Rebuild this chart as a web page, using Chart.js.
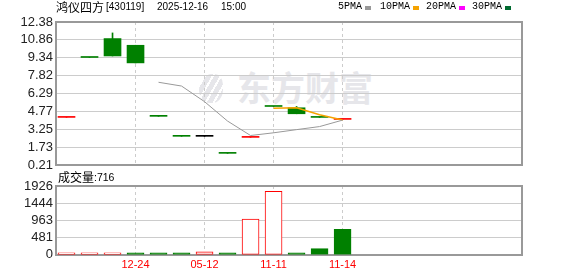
<!DOCTYPE html>
<html>
<head>
<meta charset="utf-8">
<script src="https://cdn.jsdelivr.net/npm/chart.js@4.4.0/dist/chart.umd.min.js"></script>
<style>
    body { margin: 0; background: #fff; width: 578px; height: 276px; overflow: hidden; position: relative; }
    canvas { position: absolute; left: 0; }
    #main { top: 0; }
    #vol { top: 170px; }
    .t { position: absolute; white-space: nowrap; color: #000; line-height: 1; }
    .cjk { font-family: "Noto Sans CJK SC", sans-serif; font-size: 12px; }
    .num { font-family: "Liberation Sans", sans-serif; font-size: 10px; }
    .lg { font-family: "Liberation Mono", monospace; font-size: 10px; }
    .sq { position: absolute; width: 6px; height: 4px; }
    #wm { position: absolute; left: 237px; top: 70px; font-family: "Noto Sans CJK SC", sans-serif; font-weight: bold; font-size: 34px; color: #e6e6ea; line-height: 1; }
    #wmIcon { position: absolute; left: 199px; top: 74px; width: 24px; height: 29px; border-radius: 60% 40% 50% 50%; background: repeating-linear-gradient(120deg, #e6e6ea 0 5px, #fff 5px 7px); }
</style>
</head>
<body>
<div id="wmIcon"></div>
<div id="wm">东方财富</div>
<canvas id="main" width="578" height="176"></canvas>
<canvas id="vol" width="578" height="106"></canvas>

<span class="t cjk" style="left:56px;top:1px">鸿仪四方</span>
<span class="t num" style="left:106px;top:2px;transform:scaleY(1.15)">[430119]</span>
<span class="t num" style="left:157px;top:2px;transform:scaleY(1.15)">2025-12-16</span>
<span class="t num" style="left:221px;top:2px;transform:scaleY(1.15)">15:00</span>

<span class="t lg" style="left:338px;top:2px">5PMA</span><div class="sq" style="left:365px;top:6px;background:#999"></div>
<span class="t lg" style="left:380px;top:2px">10PMA</span><div class="sq" style="left:413px;top:6px;background:#f5a300"></div>
<span class="t lg" style="left:426px;top:2px">20PMA</span><div class="sq" style="left:459px;top:6px;background:#ff00ff"></div>
<span class="t lg" style="left:472px;top:2px">30PMA</span><div class="sq" style="left:505px;top:6px;background:#006a30"></div>

<span class="t cjk" style="left:58px;top:171px">成交量</span>
<span class="t num" style="left:94px;top:172px;font-size:10.5px">:716</span>

<script>
// trading days (only every third one is labelled)
const dates = ['10-15', '11-20', '12-05', '12-24', '01-15', '03-20', '05-12', '06-20', '11-10', '11-11', '11-12', '11-13', '11-14'];
const labelIdx = [3, 6, 9, 12];

// prices
const openP  = [4.26, 9.36, 10.97, 10.40, 4.35, 2.65, 2.65, 1.20, 2.56, 5.19, 5.08, 4.26, 4.09];
const closeP = [4.26, 9.36, 9.49, 8.90, 4.35, 2.65, 2.65, 1.20, 2.56, 5.19, 4.57, 4.26, 4.09];
const highP  = [4.26, 9.36, 11.45, 10.40, 4.35, 2.65, 2.65, 1.20, 2.56, 5.19, 5.19, 4.26, 4.09];
const lowP   = [4.26, 9.36, 9.49, 8.90, 4.35, 2.65, 2.65, 1.20, 2.56, 5.19, 4.57, 4.26, 4.09];
// 1 = up (red), -1 = down (green), 0 = flat (black)
const candleDir = [1, -1, -1, -1, -1, -1, 0, -1, 1, -1, -1, -1, 1];

// moving averages
const ma5  = [null, null, null, null, 7.25, 6.93, 5.60, 3.95, 2.72, 2.95, 3.22, 3.48, 4.03];
const ma10 = [null, null, null, null, null, null, null, null, null, 5.05, 5.08, 4.48, 4.04];

// volume
const volume = [20, 20, 20, 20, 20, 20, 80, 30, 1000, 1780, 30, 175, 716];
const volDir = [1, 1, 1, -1, -1, -1, 1, -1, 1, 1, -1, -1, -1];

// axis tick labels
const priceTicks = ['0.21', '1.73', '3.25', '4.77', '6.29', '7.82', '9.34', '10.86', '12.38'];
const volTicks = ['0', '481', '963', '1444', '1926'];

const RED = '#ff0000', GREEN = '#008000', BLACK = '#000000';
const dirColor = d => d > 0 ? RED : (d < 0 ? GREEN : BLACK);
const tickFont = { family: 'Liberation Sans', size: 13 };
const xMin = -0.457, xMax = 19.8;

// frame round the plot area, drawn under the bars
const framePlugin = {
    id: 'frame',
    beforeDatasetsDraw(chart) {
        const a = chart.chartArea, ctx = chart.ctx;
        ctx.save();
        ctx.strokeStyle = '#999';
        ctx.lineWidth = 2;
        ctx.strokeRect(Math.round(a.left), Math.round(a.top), Math.round(a.right - a.left), Math.round(a.bottom - a.top));
        ctx.restore();
    }
};

const pMin = parseFloat(priceTicks[0]);
const pMax = parseFloat(priceTicks[priceTicks.length - 1]);
const pStep = (pMax - pMin) / (priceTicks.length - 1);

function xScale(showLabels) {
    return {
        type: 'linear',
        min: xMin,
        max: xMax,
        offset: false,
        afterBuildTicks: s => { s.ticks = labelIdx.map(v => ({ value: v })); },
        ticks: {
            display: showLabels,
            color: RED,
            font: { family: 'Liberation Sans', size: 11 },
            padding: 4,
            maxRotation: 0,
            autoSkip: false,
            callback: v => dates[v]
        },
        grid: { color: '#ccc', drawTicks: false, offset: false },
        border: { display: false, dash: [3, 3] }
    };
}

new Chart(document.getElementById('main'), {
    data: {
        datasets: [
            {
                type: 'line',
                data: ma5.map((v, i) => ({ x: i, y: v })).filter(p => p.y !== null),
                borderColor: '#999',
                borderWidth: 1,
                pointRadius: 0,
                order: 0
            },
            {
                type: 'line',
                data: ma10.map((v, i) => ({ x: i, y: v })).filter(p => p.y !== null),
                borderColor: '#f5a300',
                borderWidth: 1.5,
                pointRadius: 0,
                order: 0
            },
            {
                type: 'bar',
                data: dates.map((d, i) => ({ x: i, y: [openP[i], closeP[i]] })),
                backgroundColor: candleDir.map(dirColor),
                barThickness: 17,
                minBarLength: 1,
                grouped: false,
                order: 1
            },
            {
                type: 'bar',
                data: dates.map((d, i) => ({ x: i, y: [lowP[i], highP[i]] })),
                backgroundColor: candleDir.map(dirColor),
                barThickness: 1,
                grouped: false,
                order: 2
            }
        ]
    },
    options: {
        responsive: false,
        animation: false,
        layout: { padding: { left: 0, right: 56, top: 22, bottom: 11 } },
        plugins: { legend: { display: false }, tooltip: { enabled: false } },
        scales: {
            x: xScale(false),
            y: {
                min: pMin,
                max: pMax,
                afterFit: s => { s.width = 56; },
                afterBuildTicks: s => { s.ticks = priceTicks.map((t, k) => ({ value: pMin + k * pStep })); },
                ticks: { color: '#222', font: tickFont, padding: 3, autoSkip: false, callback: (v, k) => priceTicks[k] },
                grid: { color: '#ccc', drawTicks: false },
                border: { display: false }
            }
        }
    },
    plugins: [framePlugin]
});

const vMax = parseFloat(volTicks[volTicks.length - 1]);

new Chart(document.getElementById('vol'), {
    type: 'bar',
    data: {
        datasets: [{
            data: dates.map((d, i) => ({ x: i, y: volume[i] })),
            backgroundColor: volDir.map(d => d > 0 ? '#ffffff' : GREEN),
            borderColor: volDir.map(d => d > 0 ? RED : GREEN),
            borderWidth: 1,
            borderSkipped: false,
            barThickness: 17,
            minBarLength: 2
        }]
    },
    options: {
        responsive: false,
        animation: false,
        layout: { padding: { left: 0, right: 56, top: 16, bottom: 0 } },
        plugins: { legend: { display: false }, tooltip: { enabled: false } },
        scales: {
            x: xScale(true),
            y: {
                min: 0,
                max: vMax,
                afterFit: s => { s.width = 56; },
                afterBuildTicks: s => { s.ticks = volTicks.map((t, k) => ({ value: k * vMax / (volTicks.length - 1) })); },
                ticks: { color: '#222', font: tickFont, padding: 3, autoSkip: false, callback: (v, k) => volTicks[k] },
                grid: { color: '#ccc', drawTicks: false },
                border: { display: false }
            }
        }
    },
    plugins: [framePlugin]
});
</script>
</body>
</html>
